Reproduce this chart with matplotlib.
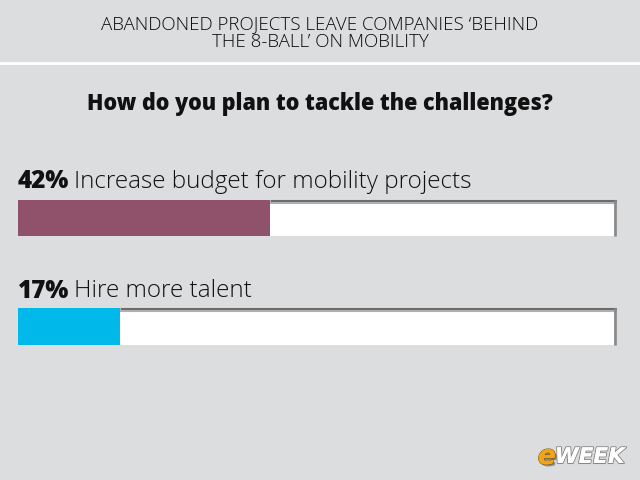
import matplotlib
matplotlib.use("Agg")
import matplotlib.pyplot as plt
import matplotlib.patheffects as pe

title = "ABANDONED PROJECTS LEAVE COMPANIES \u2018BEHIND\nTHE 8-BALL\u2019 ON MOBILITY"
question = "How do you plan to tackle the challenges?"
categories = ["Increase budget for mobility projects", "Hire more talent"]
values = [42, 17]
colors = ["#8f526a", "#00b9ea"]

BG = "#dcdddf"
W, H = 640, 480
fig = plt.figure(figsize=(6.4, 4.8), dpi=100, facecolor=BG)

ov = fig.add_axes([0, 0, 1, 1])
ov.set_xlim(0, W)
ov.set_ylim(H, 0)
ov.axis("off")

ov.text(320, 33, title, ha="center", va="center", fontsize=13.5, family="Open Sans",
        fontweight="light", color="#0a0a0a", linespacing=1.0)
ov.plot([0, W], [62.5, 62.5], color="white", lw=2)
ov.text(320, 103.5, question, ha="center", va="center", fontsize=15.5, family="Open Sans",
        fontweight="heavy", color="#111111")

label_y = [182, 291]
bar_top = [200, 308]
bar_h = [36, 37]

left, right = 18, 617
ax = fig.add_axes([left / W, 0, (right - left) / W, 1])
ax.set_xlim(0, 100)
ax.set_ylim(H, 0)
ax.axis("off")
for i, v in enumerate(values):
    yc = bar_top[i] + bar_h[i] / 2
    ax.barh(yc, 100, height=bar_h[i], color="white", edgecolor="none")
    ax.barh(yc, v, height=bar_h[i], color=colors[i], edgecolor="none")
    ax.plot([v, 100], [bar_top[i] + 1, bar_top[i] + 1], color="#6a6a6a", lw=2.2, solid_capstyle="butt")
    ax.plot([v, 100], [bar_top[i] + 3, bar_top[i] + 3], color="#b0b0b0", lw=1.5, solid_capstyle="butt")
    ax.plot([99.7, 99.7], [bar_top[i], bar_top[i] + bar_h[i]], color="#8a8a8a", lw=2, solid_capstyle="butt")

fig.canvas.draw()
renderer = fig.canvas.get_renderer()
for i, (cat, v) in enumerate(zip(categories, values)):
    t = ov.text(18, label_y[i], f"{v}%", ha="left", va="center", fontsize=17.5,
                family="Open Sans", fontweight="heavy", color="#111111")
    bb = t.get_window_extent(renderer)
    x0 = ov.transData.inverted().transform((bb.x1, 0))[0]
    ov.text(x0 + 5, label_y[i], cat, ha="left", va="center", fontsize=17.5,
            family="Open Sans", fontweight="light", color="#111111")

e = ov.text(538, 457, "e", ha="left", va="center", fontsize=19, family="DejaVu Sans",
            fontweight="bold", style="italic", color="#f0a418",
            path_effects=[pe.withStroke(linewidth=1.2, foreground="#9a6a10"),
                          pe.withSimplePatchShadow(offset=(1.5, -1.5), shadow_rgbFace="#555555", alpha=0.6), pe.Normal()])
bb = e.get_window_extent(renderer)
x0 = ov.transData.inverted().transform((bb.x1, 0))[0]
ov.text(x0 - 1, 457, "WEEK", ha="left", va="center", fontsize=15.5, family="DejaVu Sans",
        fontweight="bold", style="italic", color="white",
        path_effects=[pe.withStroke(linewidth=1.5, foreground="#888888"), pe.Normal()])

fig.savefig("out.png", dpi=100, facecolor=BG)
